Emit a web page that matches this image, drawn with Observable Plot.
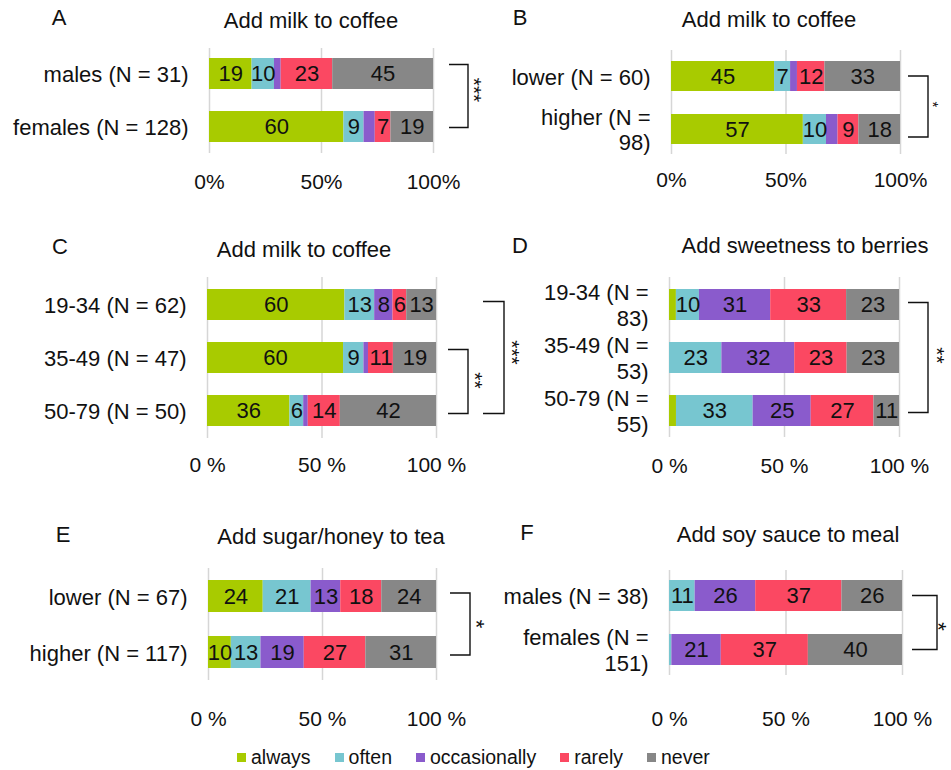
<!DOCTYPE html>
<html>
<head>
<meta charset="utf-8">
<script src="https://cdn.jsdelivr.net/npm/d3@7"></script>
<script src="https://cdn.jsdelivr.net/npm/@observablehq/plot@0.6"></script>
<style>
  body { margin: 0; background: #fff; }
  #chart { position: relative; width: 951px; height: 770px; font-family: "Liberation Sans", Arial, sans-serif; color: #111; }
  #chart > .panel { position: absolute; }
  #legend { position: absolute; left: 237px; top: 741px; }
  #legend .resp-swatches { font-family: "Liberation Sans", Arial, sans-serif !important; font-size: 19.5px !important; color: #111; margin: 0 !important; }
  #legend .resp-swatch { margin-right: 24px !important; }
  #legend .resp-swatch > svg { margin-right: 5px !important; }
</style>
</head>
<body>
<div id="chart"></div>
<script>
// Response categories, in stacking order, and their colours
const responses = ["always", "often", "occasionally", "rarely", "never"];
const palette = ["#a8cb00", "#77c6d0", "#8a5bcc", "#fb4862", "#878787"];

// Percentages per group, one row per group, columns follow `responses`
// A: add milk to coffee, by sex
const coffeeSexGroups = ["males (N = 31)", "females (N = 128)"];
const coffeeSexValues = [[19, 10, 3, 23, 45], [60, 9, 5, 7, 19]];
// B: add milk to coffee, by education
const coffeeEduGroups = ["lower (N = 60)", "higher (N =\n98)"];
const coffeeEduValues = [[45, 7, 3, 12, 33], [57, 10, 5, 9, 18]];
// C: add milk to coffee, by age
const coffeeAgeGroups = ["19-34 (N = 62)", "35-49 (N = 47)", "50-79 (N = 50)"];
const coffeeAgeValues = [[60, 13, 8, 6, 13], [60, 9, 2, 11, 19], [36, 6, 2, 14, 42]];
// D: add sweetness to berries, by age
const berryAgeGroups = ["19-34 (N =\n83)", "35-49 (N =\n53)", "50-79 (N =\n55)"];
const berryAgeValues = [[3, 10, 31, 33, 23], [0, 23, 32, 23, 23], [3, 33, 25, 27, 11]];
// E: add sugar/honey to tea, by education
const teaEduGroups = ["lower (N = 67)", "higher (N = 117)"];
const teaEduValues = [[24, 21, 13, 18, 24], [10, 13, 19, 27, 31]];
// F: add soy sauce to meal, by sex
const soySexGroups = ["males (N = 38)", "females (N =\n151)"];
const soySexValues = [[0, 11, 26, 37, 26], [0, 1, 21, 37, 40]];

// Axis ticks (shares of the whole bar)
const xTicks = [0, 0.5, 1];
const pct = d => `${Math.round(d * 100)}%`;
const pctSpaced = d => `${Math.round(d * 100)} %`;

const FONT = '"Liberation Sans", Arial, sans-serif';

const panels = [
  {
    letter: "A", title: "Add milk to coffee", groups: coffeeSexGroups, values: coffeeSexValues,
    left: 0, top: 0, width: 480, height: 205, margin: [48, 47, 52, 209],
    padInner: 0.415, padOuter: 0.198, xPad: 21, tickFormat: pct,
    letterPos: [59, 25], titlePos: [311, 28],
    brackets: [{from: 0, to: 1, x0: 16, x1: 35, dTop: -9, dBottom: 1, label: "***", labelDx: 11, labelDy: -6, size: 21}]
  },
  {
    letter: "B", title: "Add milk to coffee", groups: coffeeEduGroups, values: coffeeEduValues,
    left: 480, top: 0, width: 471, height: 205, margin: [50, 51, 51, 191],
    padInner: 0.434, padOuter: 0.198, xPad: 18, tickFormat: pct,
    letterPos: [40, 25], titlePos: [289, 27],
    brackets: [{from: 0, to: 1, x0: 8, x1: 28, dTop: 0, dBottom: 8, label: "*", labelDx: 9, labelDy: -2, size: 15}]
  },
  {
    letter: "C", title: "Add milk to coffee", groups: coffeeAgeGroups, values: coffeeAgeValues,
    left: 0, top: 230, width: 480, height: 260, margin: [47, 44, 52, 207],
    padInner: 0.42, padOuter: 0.215, xPad: 19, tickFormat: pctSpaced,
    letterPos: [60, 24], titlePos: [304, 27],
    brackets: [
      {from: 1, to: 2, x0: 12, x1: 32, dTop: -8, dBottom: 3, label: "**", labelDx: 12, labelDy: -1, size: 21},
      {from: 0, to: 2, x0: 47, x1: 68, dTop: -3, dBottom: 3, label: "***", labelDx: 13, labelDy: -5, size: 21}
    ]
  },
  {
    letter: "D", title: "Add sweetness to berries", groups: berryAgeGroups, values: berryAgeValues,
    left: 480, top: 230, width: 471, height: 260, margin: [47, 52, 53, 189],
    padInner: 0.42, padOuter: 0.215, xPad: 21, tickFormat: pctSpaced,
    letterPos: [40, 23], titlePos: [325, 23],
    brackets: [{from: 0, to: 2, x0: 9, x1: 29, dTop: -2, dBottom: 2, label: "**", labelDx: 14, labelDy: -2, size: 21}]
  },
  {
    letter: "E", title: "Add sugar/honey to tea", groups: teaEduGroups, values: teaEduValues,
    left: 0, top: 510, width: 480, height: 215, margin: [58, 44, 45, 208],
    padInner: 0.421, padOuter: 0.193, xPad: 31, tickFormat: pctSpaced,
    letterPos: [63, 32], titlePos: [331, 34],
    brackets: [{from: 0, to: 1, x0: 14, x1: 34, dTop: -3, dBottom: 3, label: "*", labelDx: 12, labelDy: 0, size: 22}]
  },
  {
    letter: "F", title: "Add soy sauce to meal", groups: soySexGroups, values: soySexValues,
    left: 480, top: 510, width: 471, height: 215, margin: [60, 49, 50, 189],
    padInner: 0.426, padOuter: 0.185, xPad: 36, tickFormat: pctSpaced,
    letterPos: [47, 30], titlePos: [308, 32],
    brackets: [{from: 0, to: 1, x0: 10, x1: 35, dTop: 0, dBottom: 0, label: "*", labelDx: 7, labelDy: 4, size: 22}]
  }
];

const chart = d3.select("#chart");

for (const p of panels) {
  const rows = p.groups.flatMap((g, i) =>
    responses.map((r, j) => ({group: g, response: r, value: p.values[i][j]}))
  );
  const stack = {x: "value", y: "group", z: "response", order: responses, offset: "normalize"};

  const plot = Plot.plot({
    width: p.width,
    height: p.height,
    marginTop: p.margin[0],
    marginRight: p.margin[1],
    marginBottom: p.margin[2],
    marginLeft: p.margin[3],
    style: {fontFamily: FONT, fontSize: "22px", color: "#111", background: "transparent", overflow: "visible"},
    x: {domain: [0, 1], label: null},
    y: {domain: p.groups, label: null, paddingInner: p.padInner, paddingOuter: p.padOuter},
    color: {domain: responses, range: palette},
    marks: [
      Plot.gridX({ticks: xTicks, stroke: "#d6d6d6", strokeOpacity: 1, strokeWidth: 1.5}),
      Plot.barX(rows, Plot.stackX({...stack, fill: "response"})),
      Plot.text(rows, Plot.stackX({
        ...stack,
        text: d => (d.value >= 6 ? String(d.value) : ""),
        fontSize: 22,
        fill: "#111"
      })),
      Plot.axisX({ticks: xTicks, tickFormat: p.tickFormat, tickSize: 0, tickPadding: p.xPad, fontSize: 21, label: null}),
      Plot.axisY({tickSize: 0, tickPadding: 21, fontSize: 22, lineHeight: 1.15, label: null})
    ]
  });

  const svg = d3.select(plot);
  const x = plot.scale("x");
  const y = plot.scale("y");
  const xEnd = x.apply(1);
  const mid = g => y.apply(g) + y.bandwidth / 2;

  // Panel letter and title
  svg.append("text")
    .attr("x", p.letterPos[0]).attr("y", p.letterPos[1])
    .attr("font-size", 22).attr("fill", "#111")
    .text(p.letter);
  svg.append("text")
    .attr("x", p.titlePos[0]).attr("y", p.titlePos[1])
    .attr("text-anchor", "middle").attr("font-size", 22).attr("fill", "#111")
    .text(p.title);

  // Significance brackets
  for (const b of p.brackets) {
    const yTop = mid(p.groups[b.from]) + b.dTop;
    const yBot = mid(p.groups[b.to]) + b.dBottom;
    const x0 = xEnd + b.x0, x1 = xEnd + b.x1;
    svg.append("path")
      .attr("d", `M${x0},${yTop}H${x1}V${yBot}H${x0}`)
      .attr("fill", "none").attr("stroke", "#111").attr("stroke-width", 1.4);
    svg.append("text")
      .attr("transform", `translate(${x1 + b.labelDx},${(yTop + yBot) / 2 + b.labelDy}) rotate(90)`)
      .attr("text-anchor", "middle").attr("dy", "0.57em")
      .attr("font-size", b.size).attr("fill", "#111")
      .text(b.label);
  }

  chart.append("div")
    .attr("class", "panel")
    .style("left", `${p.left}px`).style("top", `${p.top}px`)
    .style("width", `${p.width}px`).style("height", `${p.height}px`)
    .node().appendChild(plot);
}

// Shared legend
const legend = Plot.legend({
  color: {type: "ordinal", domain: responses, range: palette},
  legend: "swatches",
  swatchSize: 9,
  className: "resp"
});
chart.append("div").attr("id", "legend").node().appendChild(legend);
</script>
</body>
</html>
